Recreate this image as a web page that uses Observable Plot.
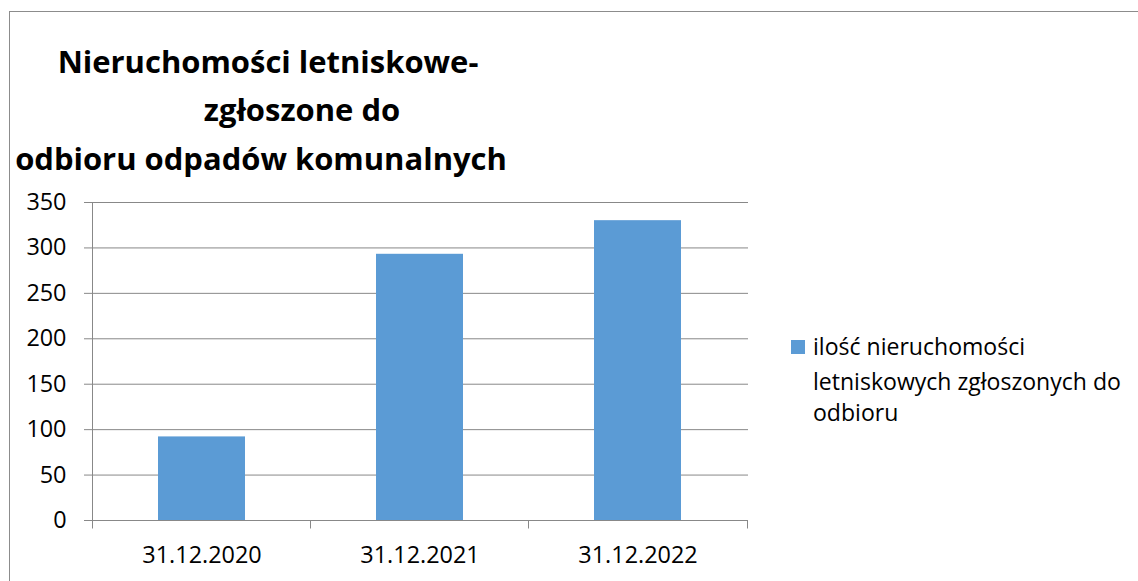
<!DOCTYPE html>
<html><head><meta charset="utf-8">
<script src="https://cdn.jsdelivr.net/npm/d3@7"></script>
<script src="https://cdn.jsdelivr.net/npm/@observablehq/plot@0.6"></script>
<style>
html,body{margin:0;padding:0;background:#fff;overflow:hidden;}
#wrap{position:relative;width:1138px;height:581px;overflow:hidden;font-family:"Open Sans",sans-serif;}
#frame{position:absolute;left:9px;top:11px;width:1400px;height:900px;border:1px solid #8c8c8c;box-sizing:border-box;}
#chart{position:absolute;left:0;top:0;}
#overlay{position:absolute;left:0;top:0;}
</style>
</head><body>
<div id="wrap"><div id="frame"></div><div id="chart"></div><svg id="overlay" width="1138" height="581"></svg></div>
<script>
const categories = ["31.12.2020", "31.12.2021", "31.12.2022"];
const values = [92, 293, 330];
const yTicks = [0, 50, 100, 150, 200, 250, 300, 350];
const titleLines = ["Nieruchomości letniskowe-", "zgłoszone do", "odbioru odpadów komunalnych"];
const legendLines = ["ilość nieruchomości", "letniskowych zgłoszonych do", "odbioru"];

const barColor = "#5B9BD5";
const lineColor = "#888888";
const data = categories.map((c, i) => ({date: c, value: values[i]}));

function boundaryTicks(index, scales, vals, dimensions) {
  const {width, height, marginLeft, marginRight, marginTop, marginBottom} = dimensions;
  const x0 = marginLeft, x1 = width - marginRight, yb = height - marginBottom;
  const n = categories.length, step = (x1 - x0) / n;
  const g = d3.create("svg:g").attr("stroke", lineColor).attr("stroke-width", 1).attr("fill", "none");
  g.append("line").attr("x1", x0 + 0.5).attr("x2", x0 + 0.5).attr("y1", marginTop + 0.5).attr("y2", yb + 8.5);
  for (let i = 1; i <= n; i++) {
    const bx = Math.round(x0 + i * step) - 0.5;
    g.append("line").attr("x1", bx).attr("x2", bx).attr("y1", yb + 0.5).attr("y2", yb + 8.5);
  }
  return g.node();
}

const plot = Plot.plot({
  width: 1138, height: 581,
  marginLeft: 92, marginRight: 390, marginTop: 202, marginBottom: 61,
  style: {fontFamily: "Open Sans", fontSize: "23.4px", color: "#000", background: "transparent", overflow: "visible"},
  x: {domain: categories, paddingInner: 0.6, paddingOuter: 0.3, align: 0.5, label: null},
  y: {domain: [0, 350], label: null},
  marks: [
    Plot.ruleY(yTicks, {stroke: lineColor, strokeWidth: 1}),
    Plot.barY(data, {x: "date", y: "value", fill: barColor}),
    Plot.axisY({ticks: yTicks, tickSize: 8, tickPadding: 18, stroke: lineColor, fill: "#000", label: null, fontSize: 23.4}),
    Plot.axisX({tickSize: 0, tickPadding: 26, fill: "#000", label: null, fontSize: 23.4}),
    boundaryTicks
  ]
});
document.getElementById("chart").appendChild(plot);

// title and legend
const ov = d3.select("#overlay");
const ctx = document.createElement("canvas").getContext("2d");
function fit(text, weight, target) {
  ctx.font = `${weight} 100px "Open Sans"`;
  return 100 * target / ctx.measureText(text).width;
}
const tSize = fit(titleLines[2], "bold", 492);
const tCenters = [268, 302, 261];
const tBase = [73, 121, 170];
titleLines.forEach((t, i) => {
  ov.append("text").attr("x", tCenters[i]).attr("y", tBase[i]).attr("text-anchor", "middle")
    .attr("font-family", "Open Sans").attr("font-weight", "bold").attr("font-size", tSize).attr("fill", "#000").text(t);
});
const lSize = fit(legendLines[1], "normal", 308);
ov.append("rect").attr("x", 791).attr("y", 340).attr("width", 14).attr("height", 14).attr("fill", barColor);
const lBase = [355, 390, 421];
legendLines.forEach((t, i) => {
  ov.append("text").attr("x", 813).attr("y", lBase[i]).attr("font-family", "Open Sans")
    .attr("font-size", lSize).attr("fill", "#000").text(t);
});
</script>
</body></html>
